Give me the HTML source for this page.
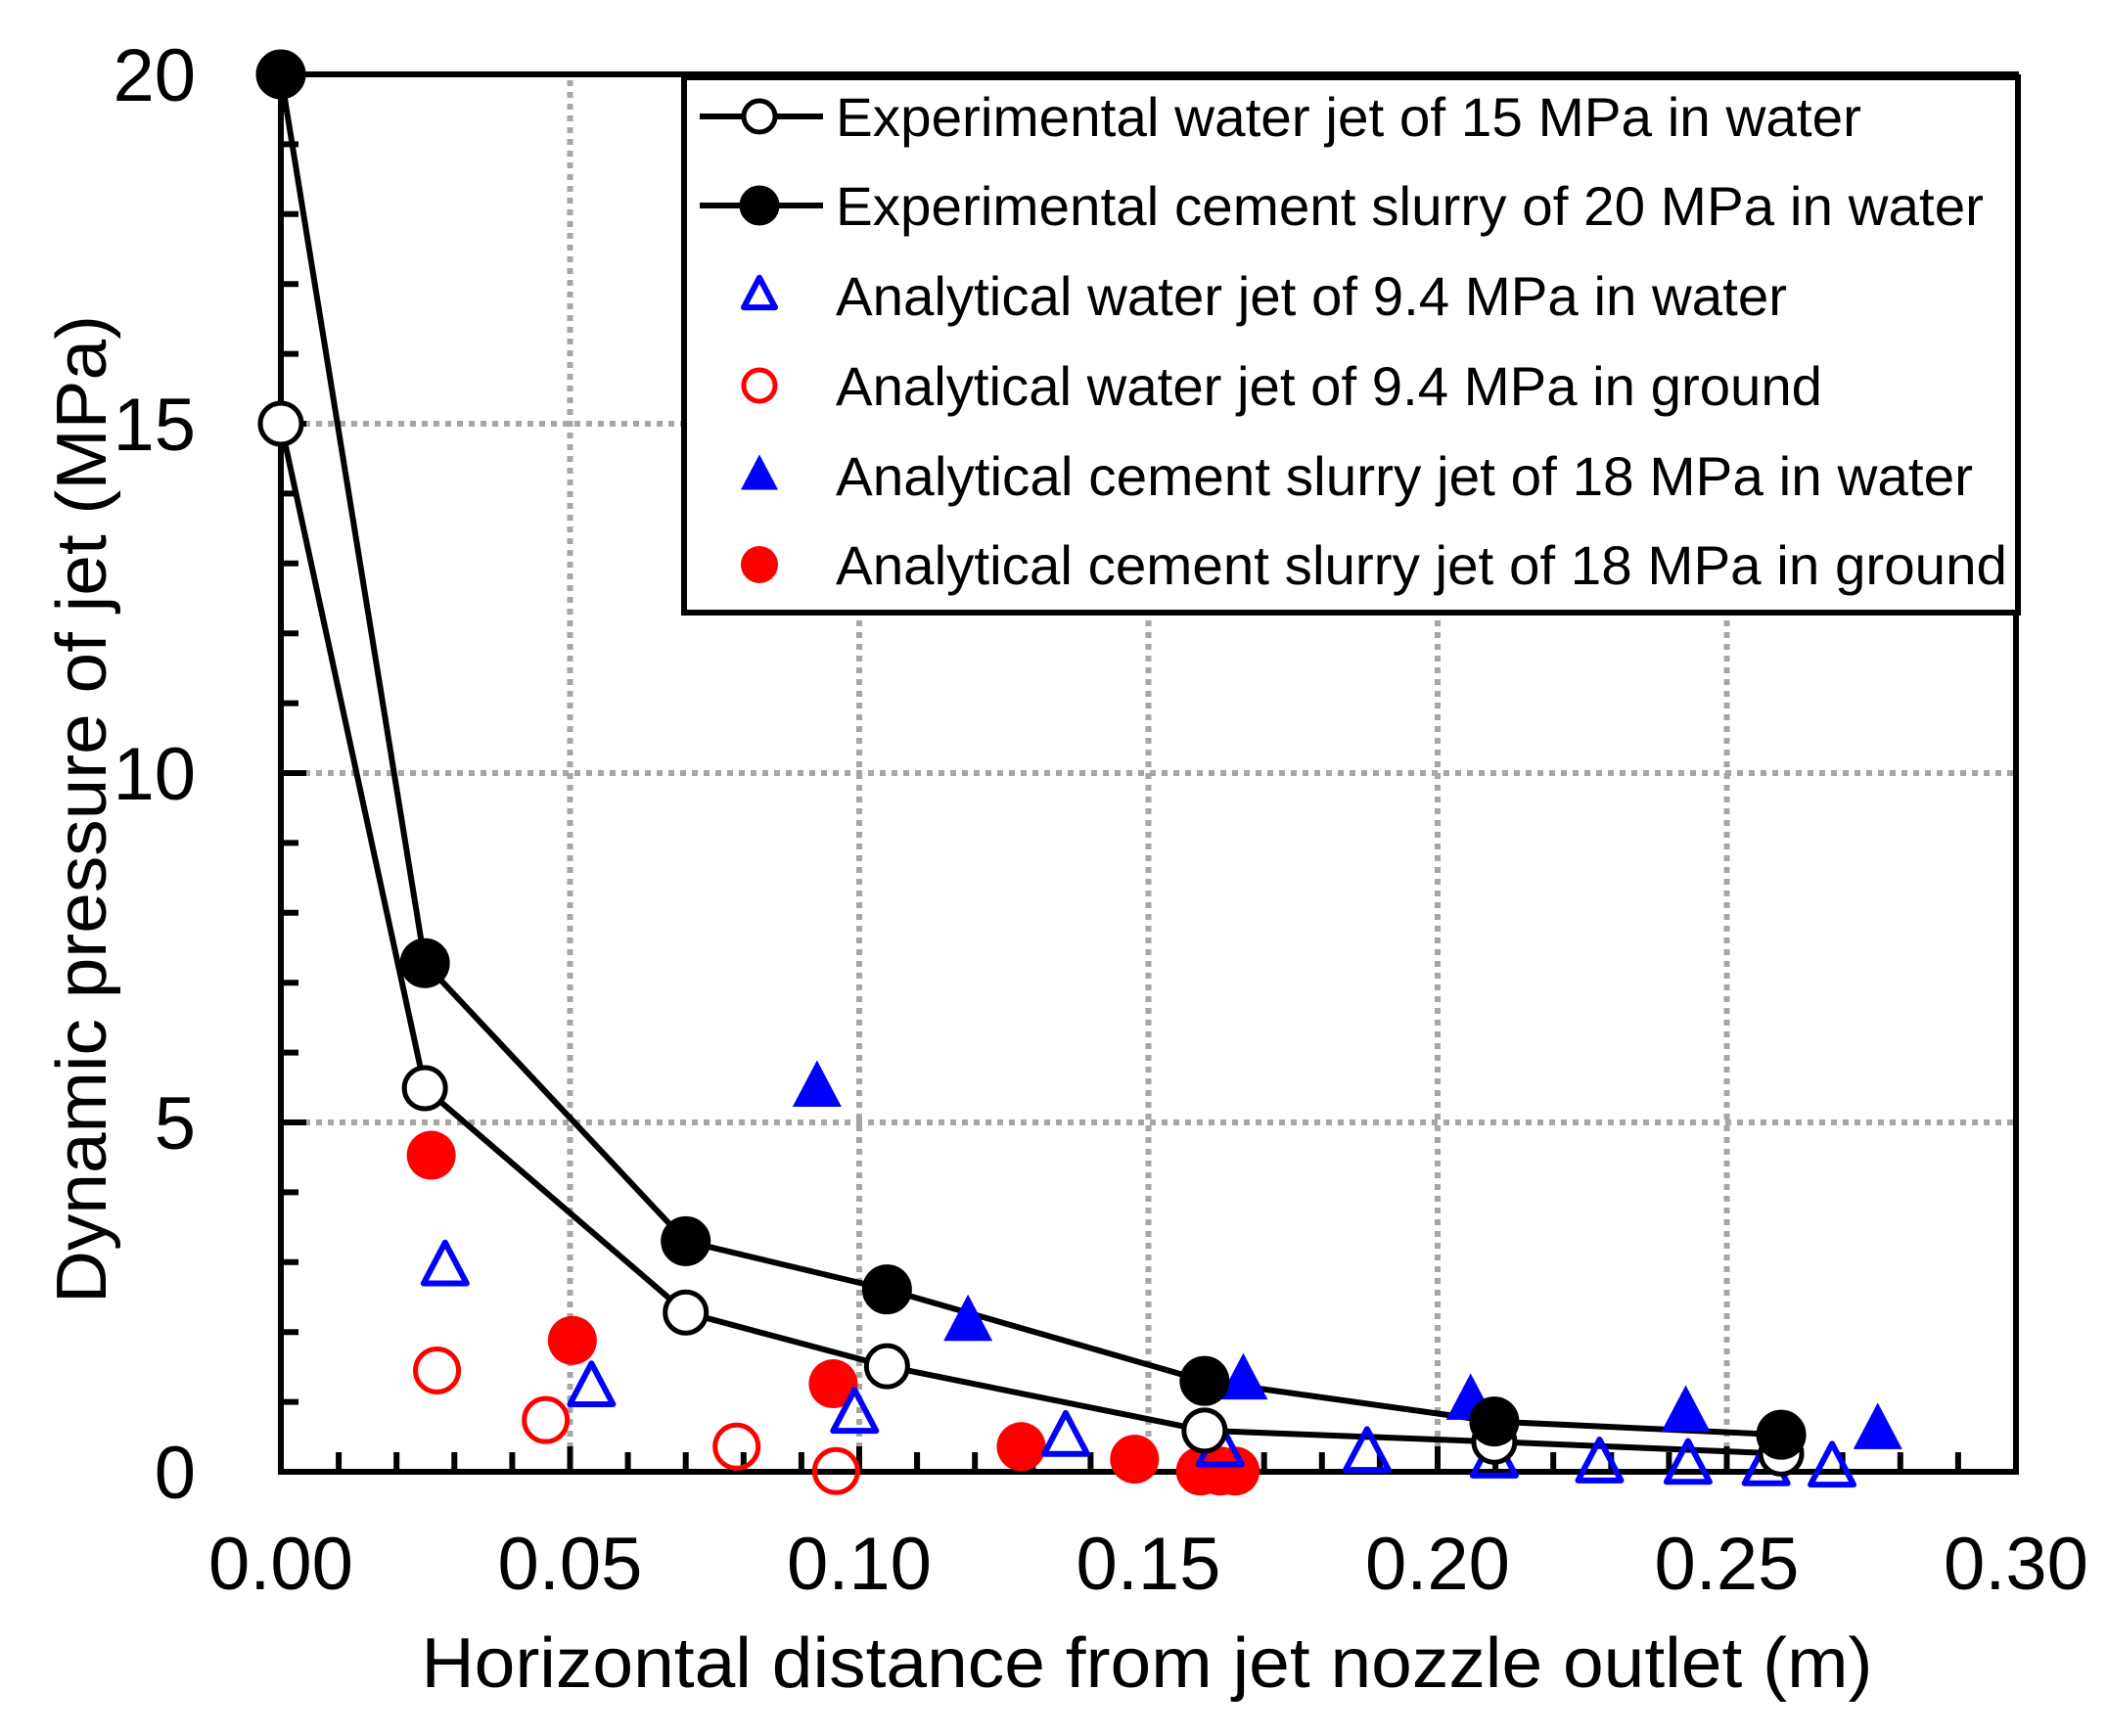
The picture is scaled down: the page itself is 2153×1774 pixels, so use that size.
<!DOCTYPE html>
<html><head><meta charset="utf-8"><style>
html,body{margin:0;padding:0;background:#fff;}
svg{display:block;font-family:"Liberation Sans",Arial,sans-serif;}
</style></head><body>
<svg id="chart" width="2153" height="1774" viewBox="0 0 2153 1774" xmlns="http://www.w3.org/2000/svg">
<g id="grid"></g>
<g id="axes"></g>
<g id="series"></g>
<g id="legend"></g>
<text x="1172" y="1724" font-size="72" text-anchor="middle" textLength="1483" lengthAdjust="spacingAndGlyphs">Horizontal distance from jet nozzle outlet (m)</text>
<text transform="translate(108,827) rotate(-90)" font-size="72" text-anchor="middle" textLength="1010" lengthAdjust="spacingAndGlyphs">Dynamic pressure of jet (MPa)</text>
</svg>
<script>
const xTicks = [0, 0.05, 0.10, 0.15, 0.20, 0.25, 0.30];
const xTickLabels = ["0.00","0.05","0.10","0.15","0.20","0.25","0.30"];
const yTicks = [0, 5, 10, 15, 20];
const yTickLabels = ["0","5","10","15","20"];

const expWaterX = [0.0, 0.0249, 0.070, 0.1048, 0.1597, 0.2098, 0.2594];
const expWaterY = [15.0, 5.49, 2.28, 1.51, 0.59, 0.43, 0.26];
const expCementX = [0.0, 0.0249, 0.070, 0.1048, 0.1597, 0.2098, 0.2594];
const expCementY = [20.0, 7.28, 3.30, 2.61, 1.30, 0.72, 0.53];
const anaWaterWaterX = [0.0284, 0.0537, 0.0992, 0.1357, 0.1624, 0.1878, 0.2098, 0.228, 0.2433, 0.2568, 0.2682];
const anaWaterWaterY = [2.93, 1.20, 0.82, 0.49, 0.34, 0.26, 0.18, 0.11, 0.09, 0.07, 0.05];
const anaWaterGroundX = [0.027, 0.0458, 0.0788, 0.096];
const anaWaterGroundY = [1.45, 0.74, 0.36, 0.01];
const anaCementWaterX = [0.0927, 0.1188, 0.1664, 0.2057, 0.2429, 0.2761];
const anaCementWaterY = [5.49, 2.14, 1.30, 1.01, 0.84, 0.59];
const anaCementGroundX = [0.026, 0.0504, 0.0955, 0.128, 0.1476, 0.159, 0.1624, 0.165];
const anaCementGroundY = [4.53, 1.88, 1.26, 0.36, 0.18, 0.01, 0.01, 0.01];

const legendLabels = ["Experimental water jet of 15 MPa in water","Experimental cement slurry of 20 MPa in water","Analytical water jet of 9.4 MPa in water","Analytical water jet of 9.4 MPa in ground","Analytical cement slurry jet of 18 MPa in water","Analytical cement slurry jet of 18 MPa in ground"];

const NS = "http://www.w3.org/2000/svg";
const X0 = 287, X1 = 2060, Y0 = 1504, Y1 = 76;
function sx(v){ return X0 + (v/0.30)*(X1-X0); }
function sy(v){ return Y0 - (v/20)*(Y0-Y1); }
function mk(tag, attrs, parent){ const e=document.createElementNS(NS,tag); for(const k in attrs) e.setAttribute(k,attrs[k]); parent.appendChild(e); return e; }

const grid=document.getElementById('grid'), axes=document.getElementById('axes'), series=document.getElementById('series'), legend=document.getElementById('legend');

xTicks.forEach((v,i)=>{
  if(i>0 && i<xTicks.length-1){
    const l=mk('line',{x1:sx(v),x2:sx(v),y1:Y0,y2:Y1,stroke:'#a6a6a6','stroke-width':6,'stroke-dasharray':'6 6'},grid);
    
    
  }
  const t=mk('text',{x:sx(v),y:1624,'font-size':76,'text-anchor':'middle'},axes);
  t.textContent=xTickLabels[i];
  
  
});
yTicks.forEach((v,i)=>{
  if(i>0 && i<yTicks.length-1){
    const l=mk('line',{x1:X0,x2:X1,y1:sy(v),y2:sy(v),stroke:'#a6a6a6','stroke-width':6,'stroke-dasharray':'6 6'},grid);
    
    
  }
  const t=mk('text',{x:200,y:sy(v)+27,'font-size':76,'text-anchor':'end'},axes);
  t.textContent=yTickLabels[i];
  
  
});
for(let k=1;k<30;k++){
  const x=sx(k*0.01), len=(k%5===0)?26:20;
  const l=mk('line',{x1:x,x2:x,y1:Y0,y2:Y0-len,stroke:'#000','stroke-width':6},axes);
  
  
}
for(let k=1;k<20;k++){
  const y=sy(k), len=(k%5===0)?26:18;
  const l=mk('line',{x1:X0,x2:X0+len,y1:y,y2:y,stroke:'#000','stroke-width':6},axes);
  
  
}
const frame=mk('rect',{x:X0,y:Y1,width:X1-X0,height:Y0-Y1,fill:'none',stroke:'#000','stroke-width':6},axes);



function circle(x,y,r,fill,stroke,parent,name){
  const c=mk('ellipse',{cx:x,cy:y,rx:r,ry:r,fill:fill,stroke:stroke,'stroke-width':5},parent);
  
  
}
function tri(x,y,s,fill,stroke,parent,name){
  const h=s*0.95;
  const p=mk('polygon',{points:`${x},${y-h*0.6} ${x-s/2},${y+h*0.4} ${x+s/2},${y+h*0.4}`,fill:fill,stroke:stroke,'stroke-width':stroke==='none'?0:6,'stroke-linejoin':'round'},parent);
  
  
}
function line(xs,ys,name){
  const p=mk('polyline',{points:xs.map((x,i)=>sx(x)+','+sy(ys[i])).join(' '),fill:'none',stroke:'#000','stroke-width':6},series);
  
  
}
line(expWaterX,expWaterY,'exp-water-line');
line(expCementX,expCementY,'exp-cement-line');
anaWaterGroundX.forEach((x,i)=>circle(sx(x),sy(anaWaterGroundY[i]),22,'none','#ff0000',series,'ana-water-ground-point'));
anaCementGroundX.forEach((x,i)=>circle(sx(x),sy(anaCementGroundY[i]),25,'#ff0000','none',series,'ana-cement-ground-point'));
anaWaterWaterX.forEach((x,i)=>tri(sx(x),sy(anaWaterWaterY[i]),44,'none','#0000ff',series,'ana-water-water-point'));
anaCementWaterX.forEach((x,i)=>tri(sx(x),sy(anaCementWaterY[i]),50,'#0000ff','none',series,'ana-cement-water-point'));
expWaterX.forEach((x,i)=>circle(sx(x),sy(expWaterY[i]),21,'#fff','#000',series,'exp-water-point'));
expCementX.forEach((x,i)=>circle(sx(x),sy(expCementY[i]),23,'#000','#000',series,'exp-cement-point'));

const lb=mk('rect',{x:699,y:79,width:1363,height:547,fill:'#fff',stroke:'#000','stroke-width':6},legend);


const rowY=[119,210,302,394,486,577];
const textW=[1048,1173,972,1008,1162,1197];
legendLabels.forEach((s,i)=>{
  const y=rowY[i], mx=776;
  if(i<2){
    const l=mk('line',{x1:715,x2:841,y1:y,y2:y,stroke:'#000','stroke-width':6},legend);
    
    
  }
  if(i===0) circle(mx,y,16,'#fff','#000',legend,'legend-marker');
  if(i===1) circle(mx,y,18,'#000','#000',legend,'legend-marker');
  if(i===2) tri(mx,y,32,'none','#0000ff',legend,'legend-marker');
  if(i===3) circle(mx,y,16,'none','#ff0000',legend,'legend-marker');
  if(i===4) tri(mx,y,38,'#0000ff','none',legend,'legend-marker');
  if(i===5) circle(mx,y,19,'#ff0000','none',legend,'legend-marker');
  const t=mk('text',{x:854,y:y+20,'font-size':56,textLength:textW[i],lengthAdjust:'spacingAndGlyphs'},legend);
  t.textContent=s;
  
  
});
</script>
</body></html>
